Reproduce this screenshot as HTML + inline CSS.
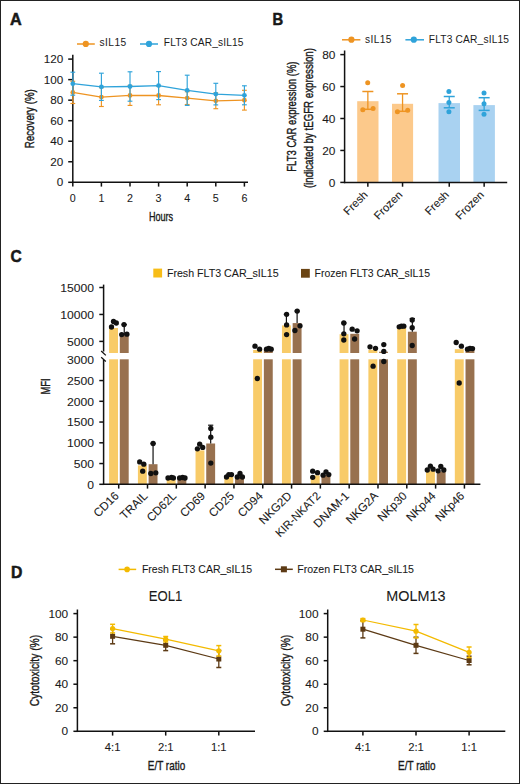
<!DOCTYPE html>
<html><head><meta charset="utf-8"><style>
html,body{margin:0;padding:0;background:#fff;width:520px;height:784px;overflow:hidden;}
svg{display:block;}
text{font-family:"Liberation Sans",sans-serif;fill:#1a1a1a;}
</style></head><body>
<svg width="520" height="784" viewBox="0 0 520 784">
<rect x="0.5" y="0.5" width="519" height="783" fill="#fff" stroke="#222" stroke-width="1"/>
<text x="10.10" y="24.80" font-size="16.6" text-anchor="start" stroke="#111" stroke-width="0.5" font-weight="bold" fill="#111" textLength="11.70" lengthAdjust="spacingAndGlyphs">A</text>
<line x1="77.00" y1="44.00" x2="94.80" y2="44.00" stroke="#ee9422" stroke-width="1.5"/>
<circle cx="85.80" cy="43.90" r="3.1" fill="#ee9422"/>
<text x="99.40" y="46.40" font-size="10.2" text-anchor="start" textLength="26.80" lengthAdjust="spacing">sIL15</text>
<line x1="140.00" y1="44.00" x2="158.00" y2="44.00" stroke="#2fa3da" stroke-width="1.5"/>
<circle cx="149.00" cy="43.90" r="3.1" fill="#2fa3da"/>
<text x="163.80" y="46.40" font-size="10.2" text-anchor="start" textLength="79.70" lengthAdjust="spacing">FLT3 CAR_sIL15</text>
<line x1="72.80" y1="54.80" x2="72.80" y2="183.05" stroke="#111" stroke-width="1.5"/>
<line x1="68.20" y1="182.30" x2="72.80" y2="182.30" stroke="#111" stroke-width="1.5"/>
<text x="63.30" y="186.40" font-size="10.7" text-anchor="end" stroke="#1a1a1a" stroke-width="0.08" textLength="6.50" lengthAdjust="spacingAndGlyphs">0</text>
<line x1="68.20" y1="161.77" x2="72.80" y2="161.77" stroke="#111" stroke-width="1.5"/>
<text x="63.30" y="165.87" font-size="10.7" text-anchor="end" stroke="#1a1a1a" stroke-width="0.08" textLength="13.00" lengthAdjust="spacingAndGlyphs">20</text>
<line x1="68.20" y1="141.23" x2="72.80" y2="141.23" stroke="#111" stroke-width="1.5"/>
<text x="63.30" y="145.33" font-size="10.7" text-anchor="end" stroke="#1a1a1a" stroke-width="0.08" textLength="13.00" lengthAdjust="spacingAndGlyphs">40</text>
<line x1="68.20" y1="120.70" x2="72.80" y2="120.70" stroke="#111" stroke-width="1.5"/>
<text x="63.30" y="124.80" font-size="10.7" text-anchor="end" stroke="#1a1a1a" stroke-width="0.08" textLength="13.00" lengthAdjust="spacingAndGlyphs">60</text>
<line x1="68.20" y1="100.17" x2="72.80" y2="100.17" stroke="#111" stroke-width="1.5"/>
<text x="63.30" y="104.27" font-size="10.7" text-anchor="end" stroke="#1a1a1a" stroke-width="0.08" textLength="13.00" lengthAdjust="spacingAndGlyphs">80</text>
<line x1="68.20" y1="79.63" x2="72.80" y2="79.63" stroke="#111" stroke-width="1.5"/>
<text x="63.30" y="83.73" font-size="10.7" text-anchor="end" stroke="#1a1a1a" stroke-width="0.08" textLength="19.50" lengthAdjust="spacingAndGlyphs">100</text>
<line x1="68.20" y1="59.10" x2="72.80" y2="59.10" stroke="#111" stroke-width="1.5"/>
<text x="63.30" y="63.20" font-size="10.7" text-anchor="end" stroke="#1a1a1a" stroke-width="0.08" textLength="19.50" lengthAdjust="spacingAndGlyphs">120</text>
<line x1="72.05" y1="182.30" x2="248.00" y2="182.30" stroke="#111" stroke-width="1.5"/>
<line x1="72.80" y1="182.30" x2="72.80" y2="186.60" stroke="#111" stroke-width="1.5"/>
<text x="72.80" y="202.20" font-size="10.7" text-anchor="middle" stroke="#1a1a1a" stroke-width="0.08">0</text>
<line x1="101.40" y1="182.30" x2="101.40" y2="186.60" stroke="#111" stroke-width="1.5"/>
<text x="101.40" y="202.20" font-size="10.7" text-anchor="middle" stroke="#1a1a1a" stroke-width="0.08">1</text>
<line x1="130.00" y1="182.30" x2="130.00" y2="186.60" stroke="#111" stroke-width="1.5"/>
<text x="130.00" y="202.20" font-size="10.7" text-anchor="middle" stroke="#1a1a1a" stroke-width="0.08">2</text>
<line x1="158.60" y1="182.30" x2="158.60" y2="186.60" stroke="#111" stroke-width="1.5"/>
<text x="158.60" y="202.20" font-size="10.7" text-anchor="middle" stroke="#1a1a1a" stroke-width="0.08">3</text>
<line x1="187.20" y1="182.30" x2="187.20" y2="186.60" stroke="#111" stroke-width="1.5"/>
<text x="187.20" y="202.20" font-size="10.7" text-anchor="middle" stroke="#1a1a1a" stroke-width="0.08">4</text>
<line x1="215.80" y1="182.30" x2="215.80" y2="186.60" stroke="#111" stroke-width="1.5"/>
<text x="215.80" y="202.20" font-size="10.7" text-anchor="middle" stroke="#1a1a1a" stroke-width="0.08">5</text>
<line x1="244.40" y1="182.30" x2="244.40" y2="186.60" stroke="#111" stroke-width="1.5"/>
<text x="244.40" y="202.20" font-size="10.7" text-anchor="middle" stroke="#1a1a1a" stroke-width="0.08">6</text>
<text x="161.00" y="221.00" font-size="13.5" text-anchor="middle" stroke="#1a1a1a" stroke-width="0.4" textLength="24.20" lengthAdjust="spacingAndGlyphs">Hours</text>
<text x="34.30" y="118.70" font-size="13.5" text-anchor="middle" stroke="#1a1a1a" stroke-width="0.4" textLength="59.00" lengthAdjust="spacingAndGlyphs" transform="rotate(-90 34.30 118.70)">Recovery (%)</text>
<line x1="72.80" y1="81.30" x2="72.80" y2="103.50" stroke="#ee9422" stroke-width="1.15"/>
<line x1="70.40" y1="81.30" x2="75.20" y2="81.30" stroke="#ee9422" stroke-width="1.15"/>
<line x1="70.40" y1="103.50" x2="75.20" y2="103.50" stroke="#ee9422" stroke-width="1.15"/>
<line x1="101.40" y1="87.70" x2="101.40" y2="106.50" stroke="#ee9422" stroke-width="1.15"/>
<line x1="99.00" y1="87.70" x2="103.80" y2="87.70" stroke="#ee9422" stroke-width="1.15"/>
<line x1="99.00" y1="106.50" x2="103.80" y2="106.50" stroke="#ee9422" stroke-width="1.15"/>
<line x1="130.00" y1="85.40" x2="130.00" y2="105.40" stroke="#ee9422" stroke-width="1.15"/>
<line x1="127.60" y1="85.40" x2="132.40" y2="85.40" stroke="#ee9422" stroke-width="1.15"/>
<line x1="127.60" y1="105.40" x2="132.40" y2="105.40" stroke="#ee9422" stroke-width="1.15"/>
<line x1="158.60" y1="86.20" x2="158.60" y2="104.80" stroke="#ee9422" stroke-width="1.15"/>
<line x1="156.20" y1="86.20" x2="161.00" y2="86.20" stroke="#ee9422" stroke-width="1.15"/>
<line x1="156.20" y1="104.80" x2="161.00" y2="104.80" stroke="#ee9422" stroke-width="1.15"/>
<line x1="187.20" y1="91.70" x2="187.20" y2="104.50" stroke="#ee9422" stroke-width="1.15"/>
<line x1="184.80" y1="91.70" x2="189.60" y2="91.70" stroke="#ee9422" stroke-width="1.15"/>
<line x1="184.80" y1="104.50" x2="189.60" y2="104.50" stroke="#ee9422" stroke-width="1.15"/>
<line x1="215.80" y1="92.90" x2="215.80" y2="108.70" stroke="#ee9422" stroke-width="1.15"/>
<line x1="213.40" y1="92.90" x2="218.20" y2="92.90" stroke="#ee9422" stroke-width="1.15"/>
<line x1="213.40" y1="108.70" x2="218.20" y2="108.70" stroke="#ee9422" stroke-width="1.15"/>
<line x1="244.40" y1="90.30" x2="244.40" y2="110.10" stroke="#ee9422" stroke-width="1.15"/>
<line x1="242.00" y1="90.30" x2="246.80" y2="90.30" stroke="#ee9422" stroke-width="1.15"/>
<line x1="242.00" y1="110.10" x2="246.80" y2="110.10" stroke="#ee9422" stroke-width="1.15"/>
<polyline points="72.80,92.40 101.40,97.10 130.00,95.40 158.60,95.50 187.20,98.10 215.80,100.80 244.40,100.20" fill="none" stroke="#ee9422" stroke-width="1.3" stroke-linejoin="round"/>
<circle cx="72.80" cy="92.40" r="2.4" fill="#ee9422"/>
<circle cx="101.40" cy="97.10" r="2.4" fill="#ee9422"/>
<circle cx="130.00" cy="95.40" r="2.4" fill="#ee9422"/>
<circle cx="158.60" cy="95.50" r="2.4" fill="#ee9422"/>
<circle cx="187.20" cy="98.10" r="2.4" fill="#ee9422"/>
<circle cx="215.80" cy="100.80" r="2.4" fill="#ee9422"/>
<circle cx="244.40" cy="100.20" r="2.4" fill="#ee9422"/>
<line x1="72.80" y1="72.20" x2="72.80" y2="95.20" stroke="#2fa3da" stroke-width="1.15"/>
<line x1="70.40" y1="72.20" x2="75.20" y2="72.20" stroke="#2fa3da" stroke-width="1.15"/>
<line x1="70.40" y1="95.20" x2="75.20" y2="95.20" stroke="#2fa3da" stroke-width="1.15"/>
<line x1="101.40" y1="73.20" x2="101.40" y2="100.40" stroke="#2fa3da" stroke-width="1.15"/>
<line x1="99.00" y1="73.20" x2="103.80" y2="73.20" stroke="#2fa3da" stroke-width="1.15"/>
<line x1="99.00" y1="100.40" x2="103.80" y2="100.40" stroke="#2fa3da" stroke-width="1.15"/>
<line x1="130.00" y1="71.80" x2="130.00" y2="101.20" stroke="#2fa3da" stroke-width="1.15"/>
<line x1="127.60" y1="71.80" x2="132.40" y2="71.80" stroke="#2fa3da" stroke-width="1.15"/>
<line x1="127.60" y1="101.20" x2="132.40" y2="101.20" stroke="#2fa3da" stroke-width="1.15"/>
<line x1="158.60" y1="71.60" x2="158.60" y2="99.60" stroke="#2fa3da" stroke-width="1.15"/>
<line x1="156.20" y1="71.60" x2="161.00" y2="71.60" stroke="#2fa3da" stroke-width="1.15"/>
<line x1="156.20" y1="99.60" x2="161.00" y2="99.60" stroke="#2fa3da" stroke-width="1.15"/>
<line x1="187.20" y1="75.20" x2="187.20" y2="105.40" stroke="#2fa3da" stroke-width="1.15"/>
<line x1="184.80" y1="75.20" x2="189.60" y2="75.20" stroke="#2fa3da" stroke-width="1.15"/>
<line x1="184.80" y1="105.40" x2="189.60" y2="105.40" stroke="#2fa3da" stroke-width="1.15"/>
<line x1="215.80" y1="83.30" x2="215.80" y2="104.90" stroke="#2fa3da" stroke-width="1.15"/>
<line x1="213.40" y1="83.30" x2="218.20" y2="83.30" stroke="#2fa3da" stroke-width="1.15"/>
<line x1="213.40" y1="104.90" x2="218.20" y2="104.90" stroke="#2fa3da" stroke-width="1.15"/>
<line x1="244.40" y1="85.80" x2="244.40" y2="104.80" stroke="#2fa3da" stroke-width="1.15"/>
<line x1="242.00" y1="85.80" x2="246.80" y2="85.80" stroke="#2fa3da" stroke-width="1.15"/>
<line x1="242.00" y1="104.80" x2="246.80" y2="104.80" stroke="#2fa3da" stroke-width="1.15"/>
<polyline points="72.80,83.70 101.40,86.80 130.00,86.50 158.60,85.60 187.20,90.30 215.80,94.10 244.40,95.30" fill="none" stroke="#2fa3da" stroke-width="1.3" stroke-linejoin="round"/>
<circle cx="72.80" cy="83.70" r="2.4" fill="#2fa3da"/>
<circle cx="101.40" cy="86.80" r="2.4" fill="#2fa3da"/>
<circle cx="130.00" cy="86.50" r="2.4" fill="#2fa3da"/>
<circle cx="158.60" cy="85.60" r="2.4" fill="#2fa3da"/>
<circle cx="187.20" cy="90.30" r="2.4" fill="#2fa3da"/>
<circle cx="215.80" cy="94.10" r="2.4" fill="#2fa3da"/>
<circle cx="244.40" cy="95.30" r="2.4" fill="#2fa3da"/>
<text x="272.50" y="24.60" font-size="16.6" text-anchor="start" stroke="#111" stroke-width="0.5" font-weight="bold" fill="#111" textLength="10.70" lengthAdjust="spacingAndGlyphs">B</text>
<line x1="342.00" y1="39.80" x2="360.40" y2="39.80" stroke="#ee9422" stroke-width="1.5"/>
<circle cx="351.40" cy="39.70" r="3.1" fill="#ee9422"/>
<text x="365.00" y="42.50" font-size="10.2" text-anchor="start" textLength="26.50" lengthAdjust="spacing">sIL15</text>
<line x1="405.40" y1="39.80" x2="424.00" y2="39.80" stroke="#2fa3da" stroke-width="1.5"/>
<circle cx="413.80" cy="39.70" r="3.1" fill="#2fa3da"/>
<text x="428.80" y="42.50" font-size="10.2" text-anchor="start" textLength="80.20" lengthAdjust="spacing">FLT3 CAR_sIL15</text>
<rect x="357.20" y="101.20" width="21.30" height="81.20" fill="#fcc98b"/>
<rect x="392.00" y="103.80" width="21.10" height="78.60" fill="#fcc98b"/>
<rect x="438.50" y="103.10" width="21.50" height="79.30" fill="#a9d2f1"/>
<rect x="473.40" y="105.10" width="21.50" height="77.30" fill="#a9d2f1"/>
<line x1="367.85" y1="91.50" x2="367.85" y2="109.30" stroke="#ee9422" stroke-width="1.3"/>
<line x1="362.35" y1="91.50" x2="373.35" y2="91.50" stroke="#ee9422" stroke-width="1.5"/>
<line x1="362.35" y1="109.30" x2="373.35" y2="109.30" stroke="#ee9422" stroke-width="1.5"/>
<circle cx="367.70" cy="82.80" r="2.5" fill="#ee9422"/>
<circle cx="362.80" cy="109.70" r="2.5" fill="#ee9422"/>
<circle cx="373.10" cy="108.50" r="2.5" fill="#ee9422"/>
<line x1="402.55" y1="93.80" x2="402.55" y2="111.30" stroke="#ee9422" stroke-width="1.3"/>
<line x1="397.05" y1="93.80" x2="408.05" y2="93.80" stroke="#ee9422" stroke-width="1.5"/>
<line x1="397.05" y1="111.30" x2="408.05" y2="111.30" stroke="#ee9422" stroke-width="1.5"/>
<circle cx="402.60" cy="85.40" r="2.5" fill="#ee9422"/>
<circle cx="397.40" cy="111.80" r="2.5" fill="#ee9422"/>
<circle cx="407.70" cy="110.30" r="2.5" fill="#ee9422"/>
<line x1="449.25" y1="96.50" x2="449.25" y2="107.80" stroke="#2fa3da" stroke-width="1.3"/>
<line x1="443.75" y1="96.50" x2="454.75" y2="96.50" stroke="#2fa3da" stroke-width="1.5"/>
<line x1="443.75" y1="107.80" x2="454.75" y2="107.80" stroke="#2fa3da" stroke-width="1.5"/>
<circle cx="448.90" cy="91.50" r="2.5" fill="#2fa3da"/>
<circle cx="448.90" cy="102.60" r="2.5" fill="#2fa3da"/>
<circle cx="448.90" cy="111.80" r="2.5" fill="#2fa3da"/>
<line x1="484.15" y1="97.70" x2="484.15" y2="110.40" stroke="#2fa3da" stroke-width="1.3"/>
<line x1="478.65" y1="97.70" x2="489.65" y2="97.70" stroke="#2fa3da" stroke-width="1.5"/>
<line x1="478.65" y1="110.40" x2="489.65" y2="110.40" stroke="#2fa3da" stroke-width="1.5"/>
<circle cx="484.00" cy="93.10" r="2.5" fill="#2fa3da"/>
<circle cx="484.00" cy="103.80" r="2.5" fill="#2fa3da"/>
<circle cx="484.00" cy="114.20" r="2.5" fill="#2fa3da"/>
<line x1="344.60" y1="50.50" x2="344.60" y2="183.15" stroke="#111" stroke-width="1.5"/>
<line x1="340.30" y1="182.40" x2="344.60" y2="182.40" stroke="#111" stroke-width="1.5"/>
<text x="335.40" y="186.50" font-size="10.7" text-anchor="end" stroke="#1a1a1a" stroke-width="0.08" textLength="6.60" lengthAdjust="spacingAndGlyphs">0</text>
<line x1="340.30" y1="150.45" x2="344.60" y2="150.45" stroke="#111" stroke-width="1.5"/>
<text x="335.40" y="154.55" font-size="10.7" text-anchor="end" stroke="#1a1a1a" stroke-width="0.08" textLength="13.20" lengthAdjust="spacingAndGlyphs">20</text>
<line x1="340.30" y1="118.50" x2="344.60" y2="118.50" stroke="#111" stroke-width="1.5"/>
<text x="335.40" y="122.60" font-size="10.7" text-anchor="end" stroke="#1a1a1a" stroke-width="0.08" textLength="13.20" lengthAdjust="spacingAndGlyphs">40</text>
<line x1="340.30" y1="86.55" x2="344.60" y2="86.55" stroke="#111" stroke-width="1.5"/>
<text x="335.40" y="90.65" font-size="10.7" text-anchor="end" stroke="#1a1a1a" stroke-width="0.08" textLength="13.20" lengthAdjust="spacingAndGlyphs">60</text>
<line x1="340.30" y1="54.60" x2="344.60" y2="54.60" stroke="#111" stroke-width="1.5"/>
<text x="335.40" y="58.70" font-size="10.7" text-anchor="end" stroke="#1a1a1a" stroke-width="0.08" textLength="13.20" lengthAdjust="spacingAndGlyphs">80</text>
<line x1="343.85" y1="182.40" x2="507.20" y2="182.40" stroke="#111" stroke-width="1.5"/>
<line x1="367.85" y1="182.40" x2="367.85" y2="186.70" stroke="#111" stroke-width="1.5"/>
<text x="368.35" y="195.50" font-size="11.2" text-anchor="end" stroke="#1a1a1a" stroke-width="0.08" transform="rotate(-45 368.35 195.50)">Fresh</text>
<line x1="402.55" y1="182.40" x2="402.55" y2="186.70" stroke="#111" stroke-width="1.5"/>
<text x="403.05" y="195.50" font-size="11.2" text-anchor="end" stroke="#1a1a1a" stroke-width="0.08" transform="rotate(-45 403.05 195.50)">Frozen</text>
<line x1="449.25" y1="182.40" x2="449.25" y2="186.70" stroke="#111" stroke-width="1.5"/>
<text x="449.75" y="195.50" font-size="11.2" text-anchor="end" stroke="#1a1a1a" stroke-width="0.08" transform="rotate(-45 449.75 195.50)">Fresh</text>
<line x1="484.15" y1="182.40" x2="484.15" y2="186.70" stroke="#111" stroke-width="1.5"/>
<text x="484.65" y="195.50" font-size="11.2" text-anchor="end" stroke="#1a1a1a" stroke-width="0.08" transform="rotate(-45 484.65 195.50)">Frozen</text>
<text x="295.90" y="116.60" font-size="13.5" text-anchor="middle" stroke="#1a1a1a" stroke-width="0.4" textLength="110.20" lengthAdjust="spacingAndGlyphs" transform="rotate(-90 295.90 116.60)">FLT3 CAR expression (%)</text>
<text x="313.20" y="118.10" font-size="13.5" text-anchor="middle" stroke="#1a1a1a" stroke-width="0.4" textLength="140.00" lengthAdjust="spacingAndGlyphs" transform="rotate(-90 313.20 118.10)">(indicated by tEGFR expression)</text>
<text x="10.50" y="262.40" font-size="16.6" text-anchor="start" stroke="#111" stroke-width="0.5" font-weight="bold" fill="#111" textLength="11.20" lengthAdjust="spacingAndGlyphs">C</text>
<rect x="153.30" y="268.60" width="8.80" height="8.90" fill="#f7bd18"/>
<text x="166.90" y="276.60" font-size="10.6" text-anchor="start" stroke="#1a1a1a" stroke-width="0.08" textLength="111.70" lengthAdjust="spacingAndGlyphs">Fresh FLT3 CAR_sIL15</text>
<rect x="301.00" y="268.90" width="8.80" height="8.80" fill="#6a4413"/>
<text x="314.60" y="276.60" font-size="10.6" text-anchor="start" stroke="#1a1a1a" stroke-width="0.08" textLength="115.40" lengthAdjust="spacingAndGlyphs">Frozen FLT3 CAR_sIL15</text>
<rect x="109.10" y="359.30" width="8.90" height="125.00" fill="#f8cb68"/>
<rect x="109.10" y="328.00" width="8.90" height="25.00" fill="#f8cb68"/>
<rect x="119.80" y="359.30" width="8.90" height="125.00" fill="#98714f"/>
<rect x="119.80" y="335.60" width="8.90" height="17.40" fill="#98714f"/>
<rect x="137.91" y="465.40" width="8.90" height="18.90" fill="#f8cb68"/>
<rect x="148.61" y="464.20" width="8.90" height="20.10" fill="#98714f"/>
<rect x="166.72" y="479.20" width="8.90" height="5.10" fill="#f8cb68"/>
<rect x="177.42" y="479.00" width="8.90" height="5.30" fill="#98714f"/>
<rect x="195.53" y="450.40" width="8.90" height="33.90" fill="#f8cb68"/>
<rect x="206.23" y="443.50" width="8.90" height="40.80" fill="#98714f"/>
<rect x="224.34" y="477.00" width="8.90" height="7.30" fill="#f8cb68"/>
<rect x="235.04" y="477.00" width="8.90" height="7.30" fill="#98714f"/>
<rect x="253.15" y="359.30" width="8.90" height="125.00" fill="#f8cb68"/>
<rect x="253.15" y="350.00" width="8.90" height="3.00" fill="#f8cb68"/>
<rect x="263.85" y="359.30" width="8.90" height="125.00" fill="#98714f"/>
<rect x="263.85" y="349.60" width="8.90" height="3.40" fill="#98714f"/>
<rect x="281.96" y="359.30" width="8.90" height="125.00" fill="#f8cb68"/>
<rect x="281.96" y="325.40" width="8.90" height="27.60" fill="#f8cb68"/>
<rect x="292.66" y="359.30" width="8.90" height="125.00" fill="#98714f"/>
<rect x="292.66" y="323.10" width="8.90" height="29.90" fill="#98714f"/>
<rect x="310.77" y="475.40" width="8.90" height="8.90" fill="#f8cb68"/>
<rect x="321.47" y="475.00" width="8.90" height="9.30" fill="#98714f"/>
<rect x="339.58" y="359.30" width="8.90" height="125.00" fill="#f8cb68"/>
<rect x="339.58" y="334.20" width="8.90" height="18.80" fill="#f8cb68"/>
<rect x="350.28" y="359.30" width="8.90" height="125.00" fill="#98714f"/>
<rect x="350.28" y="333.80" width="8.90" height="19.20" fill="#98714f"/>
<rect x="368.39" y="359.30" width="8.90" height="125.00" fill="#f8cb68"/>
<rect x="368.39" y="349.80" width="8.90" height="3.20" fill="#f8cb68"/>
<rect x="379.09" y="359.30" width="8.90" height="125.00" fill="#98714f"/>
<rect x="379.09" y="351.70" width="8.90" height="1.30" fill="#98714f"/>
<rect x="397.20" y="359.30" width="8.90" height="125.00" fill="#f8cb68"/>
<rect x="397.20" y="327.70" width="8.90" height="25.30" fill="#f8cb68"/>
<rect x="407.90" y="359.30" width="8.90" height="125.00" fill="#98714f"/>
<rect x="407.90" y="331.70" width="8.90" height="21.30" fill="#98714f"/>
<rect x="426.01" y="470.40" width="8.90" height="13.90" fill="#f8cb68"/>
<rect x="436.71" y="471.50" width="8.90" height="12.80" fill="#98714f"/>
<rect x="454.82" y="359.30" width="8.90" height="125.00" fill="#f8cb68"/>
<rect x="454.82" y="349.20" width="8.90" height="3.80" fill="#f8cb68"/>
<rect x="465.52" y="359.30" width="8.90" height="125.00" fill="#98714f"/>
<rect x="465.52" y="349.80" width="8.90" height="3.20" fill="#98714f"/>
<line x1="124.25" y1="324.60" x2="124.25" y2="335.60" stroke="#111" stroke-width="1.2"/>
<line x1="121.65" y1="324.60" x2="126.85" y2="324.60" stroke="#111" stroke-width="1.2"/>
<circle cx="111.50" cy="327.00" r="2.65" fill="#111"/>
<circle cx="113.50" cy="321.50" r="2.65" fill="#111"/>
<circle cx="116.30" cy="323.00" r="2.65" fill="#111"/>
<circle cx="124.00" cy="324.60" r="2.65" fill="#111"/>
<circle cx="121.70" cy="334.60" r="2.65" fill="#111"/>
<circle cx="126.90" cy="334.20" r="2.65" fill="#111"/>
<line x1="153.06" y1="443.50" x2="153.06" y2="464.20" stroke="#111" stroke-width="1.2"/>
<line x1="150.46" y1="443.50" x2="155.66" y2="443.50" stroke="#111" stroke-width="1.2"/>
<circle cx="139.70" cy="461.90" r="2.65" fill="#111"/>
<circle cx="143.80" cy="464.20" r="2.65" fill="#111"/>
<circle cx="142.70" cy="471.20" r="2.65" fill="#111"/>
<circle cx="153.10" cy="443.50" r="2.65" fill="#111"/>
<circle cx="150.80" cy="473.50" r="2.65" fill="#111"/>
<circle cx="155.80" cy="472.80" r="2.65" fill="#111"/>
<circle cx="168.00" cy="478.00" r="2.65" fill="#111"/>
<circle cx="171.50" cy="477.50" r="2.65" fill="#111"/>
<circle cx="173.40" cy="478.00" r="2.65" fill="#111"/>
<circle cx="179.60" cy="478.00" r="2.65" fill="#111"/>
<circle cx="182.60" cy="477.50" r="2.65" fill="#111"/>
<circle cx="185.00" cy="478.00" r="2.65" fill="#111"/>
<line x1="210.68" y1="425.20" x2="210.68" y2="443.50" stroke="#111" stroke-width="1.2"/>
<line x1="208.08" y1="425.20" x2="213.28" y2="425.20" stroke="#111" stroke-width="1.2"/>
<circle cx="197.40" cy="448.80" r="2.65" fill="#111"/>
<circle cx="199.70" cy="444.20" r="2.65" fill="#111"/>
<circle cx="202.70" cy="447.40" r="2.65" fill="#111"/>
<circle cx="210.80" cy="428.50" r="2.65" fill="#111"/>
<circle cx="210.80" cy="437.20" r="2.65" fill="#111"/>
<circle cx="210.80" cy="463.10" r="2.65" fill="#111"/>
<circle cx="226.50" cy="477.00" r="2.65" fill="#111"/>
<circle cx="228.80" cy="474.60" r="2.65" fill="#111"/>
<circle cx="231.50" cy="474.60" r="2.65" fill="#111"/>
<circle cx="237.30" cy="477.00" r="2.65" fill="#111"/>
<circle cx="240.00" cy="473.50" r="2.65" fill="#111"/>
<circle cx="242.40" cy="477.00" r="2.65" fill="#111"/>
<circle cx="255.00" cy="346.20" r="2.65" fill="#111"/>
<circle cx="259.60" cy="349.20" r="2.65" fill="#111"/>
<circle cx="257.30" cy="378.50" r="2.65" fill="#111"/>
<circle cx="266.50" cy="349.20" r="2.65" fill="#111"/>
<circle cx="268.80" cy="348.50" r="2.65" fill="#111"/>
<circle cx="271.20" cy="349.20" r="2.65" fill="#111"/>
<line x1="286.41" y1="314.30" x2="286.41" y2="325.40" stroke="#111" stroke-width="1.2"/>
<line x1="283.81" y1="314.30" x2="289.01" y2="314.30" stroke="#111" stroke-width="1.2"/>
<line x1="297.11" y1="311.10" x2="297.11" y2="323.10" stroke="#111" stroke-width="1.2"/>
<line x1="294.51" y1="311.10" x2="299.71" y2="311.10" stroke="#111" stroke-width="1.2"/>
<circle cx="286.60" cy="314.30" r="2.65" fill="#111"/>
<circle cx="286.60" cy="324.90" r="2.65" fill="#111"/>
<circle cx="286.60" cy="334.60" r="2.65" fill="#111"/>
<circle cx="297.20" cy="311.10" r="2.65" fill="#111"/>
<circle cx="300.00" cy="325.80" r="2.65" fill="#111"/>
<circle cx="294.90" cy="330.50" r="2.65" fill="#111"/>
<circle cx="312.70" cy="471.20" r="2.65" fill="#111"/>
<circle cx="317.50" cy="472.70" r="2.65" fill="#111"/>
<circle cx="312.70" cy="477.30" r="2.65" fill="#111"/>
<circle cx="323.10" cy="475.20" r="2.65" fill="#111"/>
<circle cx="326.00" cy="471.90" r="2.65" fill="#111"/>
<circle cx="328.80" cy="474.60" r="2.65" fill="#111"/>
<line x1="344.03" y1="323.00" x2="344.03" y2="334.20" stroke="#111" stroke-width="1.2"/>
<line x1="341.43" y1="323.00" x2="346.63" y2="323.00" stroke="#111" stroke-width="1.2"/>
<circle cx="343.80" cy="323.00" r="2.65" fill="#111"/>
<circle cx="343.80" cy="333.80" r="2.65" fill="#111"/>
<circle cx="343.80" cy="340.00" r="2.65" fill="#111"/>
<circle cx="352.20" cy="329.20" r="2.65" fill="#111"/>
<circle cx="357.10" cy="330.80" r="2.65" fill="#111"/>
<circle cx="354.60" cy="339.00" r="2.65" fill="#111"/>
<circle cx="370.00" cy="346.80" r="2.65" fill="#111"/>
<circle cx="375.50" cy="348.30" r="2.65" fill="#111"/>
<circle cx="373.10" cy="366.20" r="2.65" fill="#111"/>
<circle cx="383.80" cy="344.60" r="2.65" fill="#111"/>
<circle cx="383.80" cy="351.40" r="2.65" fill="#111"/>
<circle cx="383.80" cy="361.50" r="2.65" fill="#111"/>
<line x1="412.35" y1="318.50" x2="412.35" y2="331.70" stroke="#111" stroke-width="1.2"/>
<line x1="409.75" y1="318.50" x2="414.95" y2="318.50" stroke="#111" stroke-width="1.2"/>
<circle cx="399.20" cy="326.80" r="2.65" fill="#111"/>
<circle cx="401.40" cy="326.20" r="2.65" fill="#111"/>
<circle cx="403.80" cy="326.20" r="2.65" fill="#111"/>
<circle cx="412.20" cy="320.00" r="2.65" fill="#111"/>
<circle cx="412.20" cy="327.70" r="2.65" fill="#111"/>
<circle cx="412.20" cy="345.50" r="2.65" fill="#111"/>
<circle cx="427.30" cy="470.00" r="2.65" fill="#111"/>
<circle cx="430.40" cy="466.20" r="2.65" fill="#111"/>
<circle cx="433.10" cy="469.20" r="2.65" fill="#111"/>
<circle cx="438.10" cy="470.80" r="2.65" fill="#111"/>
<circle cx="440.80" cy="466.50" r="2.65" fill="#111"/>
<circle cx="443.80" cy="470.00" r="2.65" fill="#111"/>
<circle cx="456.20" cy="342.50" r="2.65" fill="#111"/>
<circle cx="461.40" cy="346.20" r="2.65" fill="#111"/>
<circle cx="459.20" cy="383.00" r="2.65" fill="#111"/>
<circle cx="467.50" cy="349.20" r="2.65" fill="#111"/>
<circle cx="470.00" cy="348.30" r="2.65" fill="#111"/>
<circle cx="472.50" cy="348.60" r="2.65" fill="#111"/>
<line x1="103.60" y1="284.60" x2="103.60" y2="351.50" stroke="#111" stroke-width="1.5"/>
<line x1="103.60" y1="360.00" x2="103.60" y2="485.05" stroke="#111" stroke-width="1.5"/>
<line x1="101.20" y1="351.00" x2="105.80" y2="355.40" stroke="#111" stroke-width="1.3"/>
<line x1="101.20" y1="357.30" x2="105.80" y2="361.50" stroke="#111" stroke-width="1.3"/>
<line x1="99.30" y1="287.50" x2="103.60" y2="287.50" stroke="#111" stroke-width="1.5"/>
<text x="93.90" y="291.80" font-size="10.7" text-anchor="end" stroke="#1a1a1a" stroke-width="0.08" textLength="33.75" lengthAdjust="spacingAndGlyphs">15000</text>
<line x1="99.30" y1="314.45" x2="103.60" y2="314.45" stroke="#111" stroke-width="1.5"/>
<text x="93.90" y="318.75" font-size="10.7" text-anchor="end" stroke="#1a1a1a" stroke-width="0.08" textLength="33.75" lengthAdjust="spacingAndGlyphs">10000</text>
<line x1="99.30" y1="341.40" x2="103.60" y2="341.40" stroke="#111" stroke-width="1.5"/>
<text x="93.90" y="345.70" font-size="10.7" text-anchor="end" stroke="#1a1a1a" stroke-width="0.08" textLength="27.00" lengthAdjust="spacingAndGlyphs">5000</text>
<text x="93.90" y="364.10" font-size="10.7" text-anchor="end" stroke="#1a1a1a" stroke-width="0.08" textLength="27.00" lengthAdjust="spacingAndGlyphs">3000</text>
<line x1="99.30" y1="484.30" x2="103.60" y2="484.30" stroke="#111" stroke-width="1.5"/>
<text x="93.90" y="488.60" font-size="10.7" text-anchor="end" stroke="#1a1a1a" stroke-width="0.08" textLength="6.75" lengthAdjust="spacingAndGlyphs">0</text>
<line x1="99.30" y1="463.55" x2="103.60" y2="463.55" stroke="#111" stroke-width="1.5"/>
<text x="93.90" y="467.85" font-size="10.7" text-anchor="end" stroke="#1a1a1a" stroke-width="0.08" textLength="20.25" lengthAdjust="spacingAndGlyphs">500</text>
<line x1="99.30" y1="442.80" x2="103.60" y2="442.80" stroke="#111" stroke-width="1.5"/>
<text x="93.90" y="447.10" font-size="10.7" text-anchor="end" stroke="#1a1a1a" stroke-width="0.08" textLength="27.00" lengthAdjust="spacingAndGlyphs">1000</text>
<line x1="99.30" y1="422.05" x2="103.60" y2="422.05" stroke="#111" stroke-width="1.5"/>
<text x="93.90" y="426.35" font-size="10.7" text-anchor="end" stroke="#1a1a1a" stroke-width="0.08" textLength="27.00" lengthAdjust="spacingAndGlyphs">1500</text>
<line x1="99.30" y1="401.30" x2="103.60" y2="401.30" stroke="#111" stroke-width="1.5"/>
<text x="93.90" y="405.60" font-size="10.7" text-anchor="end" stroke="#1a1a1a" stroke-width="0.08" textLength="27.00" lengthAdjust="spacingAndGlyphs">2000</text>
<line x1="99.30" y1="380.55" x2="103.60" y2="380.55" stroke="#111" stroke-width="1.5"/>
<text x="93.90" y="384.85" font-size="10.7" text-anchor="end" stroke="#1a1a1a" stroke-width="0.08" textLength="27.00" lengthAdjust="spacingAndGlyphs">2500</text>
<line x1="102.85" y1="484.30" x2="480.40" y2="484.30" stroke="#111" stroke-width="1.5"/>
<line x1="118.70" y1="484.30" x2="118.70" y2="488.60" stroke="#111" stroke-width="1.5"/>
<text x="119.50" y="496.60" font-size="11.7" text-anchor="end" stroke="#1a1a1a" stroke-width="0.08" transform="rotate(-45 119.50 496.60)">CD16</text>
<line x1="147.51" y1="484.30" x2="147.51" y2="488.60" stroke="#111" stroke-width="1.5"/>
<text x="148.31" y="496.60" font-size="11.7" text-anchor="end" stroke="#1a1a1a" stroke-width="0.08" transform="rotate(-45 148.31 496.60)">TRAIL</text>
<line x1="176.32" y1="484.30" x2="176.32" y2="488.60" stroke="#111" stroke-width="1.5"/>
<text x="177.12" y="496.60" font-size="11.7" text-anchor="end" stroke="#1a1a1a" stroke-width="0.08" transform="rotate(-45 177.12 496.60)">CD62L</text>
<line x1="205.13" y1="484.30" x2="205.13" y2="488.60" stroke="#111" stroke-width="1.5"/>
<text x="205.93" y="496.60" font-size="11.7" text-anchor="end" stroke="#1a1a1a" stroke-width="0.08" transform="rotate(-45 205.93 496.60)">CD69</text>
<line x1="233.94" y1="484.30" x2="233.94" y2="488.60" stroke="#111" stroke-width="1.5"/>
<text x="234.74" y="496.60" font-size="11.7" text-anchor="end" stroke="#1a1a1a" stroke-width="0.08" transform="rotate(-45 234.74 496.60)">CD25</text>
<line x1="262.75" y1="484.30" x2="262.75" y2="488.60" stroke="#111" stroke-width="1.5"/>
<text x="263.55" y="496.60" font-size="11.7" text-anchor="end" stroke="#1a1a1a" stroke-width="0.08" transform="rotate(-45 263.55 496.60)">CD94</text>
<line x1="291.56" y1="484.30" x2="291.56" y2="488.60" stroke="#111" stroke-width="1.5"/>
<text x="292.36" y="496.60" font-size="11.7" text-anchor="end" stroke="#1a1a1a" stroke-width="0.08" transform="rotate(-45 292.36 496.60)">NKG2D</text>
<line x1="320.37" y1="484.30" x2="320.37" y2="488.60" stroke="#111" stroke-width="1.5"/>
<text x="321.17" y="496.60" font-size="11.3" text-anchor="end" stroke="#1a1a1a" stroke-width="0.08" transform="rotate(-45 321.17 496.60)">KIR-NKAT2</text>
<line x1="349.18" y1="484.30" x2="349.18" y2="488.60" stroke="#111" stroke-width="1.5"/>
<text x="349.98" y="496.60" font-size="11.7" text-anchor="end" stroke="#1a1a1a" stroke-width="0.08" transform="rotate(-45 349.98 496.60)">DNAM-1</text>
<line x1="377.99" y1="484.30" x2="377.99" y2="488.60" stroke="#111" stroke-width="1.5"/>
<text x="378.79" y="496.60" font-size="11.7" text-anchor="end" stroke="#1a1a1a" stroke-width="0.08" transform="rotate(-45 378.79 496.60)">NKG2A</text>
<line x1="406.80" y1="484.30" x2="406.80" y2="488.60" stroke="#111" stroke-width="1.5"/>
<text x="407.60" y="496.60" font-size="11.7" text-anchor="end" stroke="#1a1a1a" stroke-width="0.08" transform="rotate(-45 407.60 496.60)">NKp30</text>
<line x1="435.61" y1="484.30" x2="435.61" y2="488.60" stroke="#111" stroke-width="1.5"/>
<text x="436.41" y="496.60" font-size="11.7" text-anchor="end" stroke="#1a1a1a" stroke-width="0.08" transform="rotate(-45 436.41 496.60)">NKp44</text>
<line x1="464.42" y1="484.30" x2="464.42" y2="488.60" stroke="#111" stroke-width="1.5"/>
<text x="465.22" y="496.60" font-size="11.7" text-anchor="end" stroke="#1a1a1a" stroke-width="0.08" transform="rotate(-45 465.22 496.60)">NKp46</text>
<text x="50.40" y="386.40" font-size="13.5" text-anchor="middle" stroke="#1a1a1a" stroke-width="0.4" textLength="16.20" lengthAdjust="spacingAndGlyphs" transform="rotate(-90 50.40 386.40)">MFI</text>
<text x="11.00" y="577.60" font-size="16.6" text-anchor="start" stroke="#111" stroke-width="0.5" font-weight="bold" fill="#111" textLength="11.40" lengthAdjust="spacingAndGlyphs">D</text>
<line x1="118.60" y1="569.40" x2="136.20" y2="569.40" stroke="#f3ba00" stroke-width="1.5"/>
<circle cx="127.10" cy="569.40" r="2.8" fill="#f3ba00"/>
<text x="141.90" y="572.60" font-size="10.5" text-anchor="start" stroke="#1a1a1a" stroke-width="0.08" textLength="110.20" lengthAdjust="spacingAndGlyphs">Fresh FLT3 CAR_sIL15</text>
<line x1="275.00" y1="569.30" x2="292.80" y2="569.30" stroke="#5c3a15" stroke-width="1.5"/>
<rect x="280.90" y="566.30" width="6.00" height="6.00" fill="#5c3a15"/>
<text x="297.20" y="572.60" font-size="10.5" text-anchor="start" stroke="#1a1a1a" stroke-width="0.08" textLength="116.80" lengthAdjust="spacingAndGlyphs">Frozen FLT3 CAR_sIL15</text>
<line x1="112.60" y1="628.80" x2="112.60" y2="643.80" stroke="#5c3a15" stroke-width="1.3"/>
<line x1="110.10" y1="643.80" x2="115.10" y2="643.80" stroke="#5c3a15" stroke-width="1.5"/>
<line x1="110.10" y1="628.80" x2="115.10" y2="628.80" stroke="#5c3a15" stroke-width="1.5"/>
<line x1="165.70" y1="640.00" x2="165.70" y2="650.60" stroke="#5c3a15" stroke-width="1.3"/>
<line x1="163.20" y1="650.60" x2="168.20" y2="650.60" stroke="#5c3a15" stroke-width="1.5"/>
<line x1="163.20" y1="640.00" x2="168.20" y2="640.00" stroke="#5c3a15" stroke-width="1.5"/>
<line x1="218.80" y1="650.50" x2="218.80" y2="667.50" stroke="#5c3a15" stroke-width="1.3"/>
<line x1="216.30" y1="667.50" x2="221.30" y2="667.50" stroke="#5c3a15" stroke-width="1.5"/>
<line x1="216.30" y1="650.50" x2="221.30" y2="650.50" stroke="#5c3a15" stroke-width="1.5"/>
<polyline points="112.60,636.30 165.70,645.30 218.80,659.00" fill="none" stroke="#5c3a15" stroke-width="1.25" stroke-linejoin="round"/>
<rect x="110.10" y="633.80" width="5.00" height="5.00" fill="#5c3a15"/>
<rect x="163.20" y="642.80" width="5.00" height="5.00" fill="#5c3a15"/>
<rect x="216.30" y="656.50" width="5.00" height="5.00" fill="#5c3a15"/>
<line x1="112.60" y1="624.30" x2="112.60" y2="632.90" stroke="#f3ba00" stroke-width="1.3"/>
<line x1="110.10" y1="624.30" x2="115.10" y2="624.30" stroke="#f3ba00" stroke-width="1.5"/>
<line x1="110.10" y1="632.90" x2="115.10" y2="632.90" stroke="#f3ba00" stroke-width="1.5"/>
<line x1="165.70" y1="636.50" x2="165.70" y2="641.90" stroke="#f3ba00" stroke-width="1.3"/>
<line x1="163.20" y1="636.50" x2="168.20" y2="636.50" stroke="#f3ba00" stroke-width="1.5"/>
<line x1="163.20" y1="641.90" x2="168.20" y2="641.90" stroke="#f3ba00" stroke-width="1.5"/>
<line x1="218.80" y1="645.60" x2="218.80" y2="656.00" stroke="#f3ba00" stroke-width="1.3"/>
<line x1="216.30" y1="645.60" x2="221.30" y2="645.60" stroke="#f3ba00" stroke-width="1.5"/>
<line x1="216.30" y1="656.00" x2="221.30" y2="656.00" stroke="#f3ba00" stroke-width="1.5"/>
<polyline points="112.60,628.60 165.70,639.20 218.80,650.80" fill="none" stroke="#f3ba00" stroke-width="1.25" stroke-linejoin="round"/>
<circle cx="112.60" cy="628.60" r="2.6" fill="#f3ba00"/>
<circle cx="165.70" cy="639.20" r="2.6" fill="#f3ba00"/>
<circle cx="218.80" cy="650.80" r="2.6" fill="#f3ba00"/>
<line x1="77.40" y1="609.50" x2="77.40" y2="732.05" stroke="#111" stroke-width="1.5"/>
<line x1="73.40" y1="731.30" x2="77.40" y2="731.30" stroke="#111" stroke-width="1.5"/>
<text x="68.20" y="735.40" font-size="10.7" text-anchor="end" stroke="#1a1a1a" stroke-width="0.08" textLength="6.60" lengthAdjust="spacingAndGlyphs">0</text>
<line x1="73.40" y1="707.76" x2="77.40" y2="707.76" stroke="#111" stroke-width="1.5"/>
<text x="68.20" y="711.86" font-size="10.7" text-anchor="end" stroke="#1a1a1a" stroke-width="0.08" textLength="13.20" lengthAdjust="spacingAndGlyphs">20</text>
<line x1="73.40" y1="684.22" x2="77.40" y2="684.22" stroke="#111" stroke-width="1.5"/>
<text x="68.20" y="688.32" font-size="10.7" text-anchor="end" stroke="#1a1a1a" stroke-width="0.08" textLength="13.20" lengthAdjust="spacingAndGlyphs">40</text>
<line x1="73.40" y1="660.68" x2="77.40" y2="660.68" stroke="#111" stroke-width="1.5"/>
<text x="68.20" y="664.78" font-size="10.7" text-anchor="end" stroke="#1a1a1a" stroke-width="0.08" textLength="13.20" lengthAdjust="spacingAndGlyphs">60</text>
<line x1="73.40" y1="637.14" x2="77.40" y2="637.14" stroke="#111" stroke-width="1.5"/>
<text x="68.20" y="641.24" font-size="10.7" text-anchor="end" stroke="#1a1a1a" stroke-width="0.08" textLength="13.20" lengthAdjust="spacingAndGlyphs">80</text>
<line x1="73.40" y1="613.60" x2="77.40" y2="613.60" stroke="#111" stroke-width="1.5"/>
<text x="68.20" y="617.70" font-size="10.7" text-anchor="end" stroke="#1a1a1a" stroke-width="0.08" textLength="19.80" lengthAdjust="spacingAndGlyphs">100</text>
<line x1="76.65" y1="731.30" x2="255.00" y2="731.30" stroke="#111" stroke-width="1.5"/>
<line x1="112.60" y1="731.30" x2="112.60" y2="735.60" stroke="#111" stroke-width="1.5"/>
<text x="112.60" y="751.20" font-size="10.7" text-anchor="middle" stroke="#1a1a1a" stroke-width="0.08" textLength="15.60" lengthAdjust="spacingAndGlyphs">4:1</text>
<line x1="165.70" y1="731.30" x2="165.70" y2="735.60" stroke="#111" stroke-width="1.5"/>
<text x="165.70" y="751.20" font-size="10.7" text-anchor="middle" stroke="#1a1a1a" stroke-width="0.08" textLength="15.60" lengthAdjust="spacingAndGlyphs">2:1</text>
<line x1="218.80" y1="731.30" x2="218.80" y2="735.60" stroke="#111" stroke-width="1.5"/>
<text x="218.80" y="751.20" font-size="10.7" text-anchor="middle" stroke="#1a1a1a" stroke-width="0.08" textLength="15.60" lengthAdjust="spacingAndGlyphs">1:1</text>
<text x="166.50" y="770.20" font-size="13.5" text-anchor="middle" stroke="#1a1a1a" stroke-width="0.4" textLength="37.40" lengthAdjust="spacingAndGlyphs">E/T ratio</text>
<text x="39.40" y="670.50" font-size="13.5" text-anchor="middle" stroke="#1a1a1a" stroke-width="0.4" textLength="71.40" lengthAdjust="spacingAndGlyphs" transform="rotate(-90 39.40 670.50)">Cytotoxicity (%)</text>
<text x="165.60" y="600.90" font-size="14.3" text-anchor="middle" stroke="#1a1a1a" stroke-width="0.08" textLength="33.60" lengthAdjust="spacingAndGlyphs">EOL1</text>
<line x1="362.90" y1="620.50" x2="362.90" y2="637.90" stroke="#5c3a15" stroke-width="1.3"/>
<line x1="360.40" y1="637.90" x2="365.40" y2="637.90" stroke="#5c3a15" stroke-width="1.5"/>
<line x1="360.40" y1="620.50" x2="365.40" y2="620.50" stroke="#5c3a15" stroke-width="1.5"/>
<line x1="416.00" y1="637.20" x2="416.00" y2="653.40" stroke="#5c3a15" stroke-width="1.3"/>
<line x1="413.50" y1="653.40" x2="418.50" y2="653.40" stroke="#5c3a15" stroke-width="1.5"/>
<line x1="413.50" y1="637.20" x2="418.50" y2="637.20" stroke="#5c3a15" stroke-width="1.5"/>
<line x1="469.10" y1="656.20" x2="469.10" y2="664.80" stroke="#5c3a15" stroke-width="1.3"/>
<line x1="466.60" y1="664.80" x2="471.60" y2="664.80" stroke="#5c3a15" stroke-width="1.5"/>
<line x1="466.60" y1="656.20" x2="471.60" y2="656.20" stroke="#5c3a15" stroke-width="1.5"/>
<polyline points="362.90,629.20 416.00,645.30 469.10,660.50" fill="none" stroke="#5c3a15" stroke-width="1.25" stroke-linejoin="round"/>
<rect x="360.40" y="626.70" width="5.00" height="5.00" fill="#5c3a15"/>
<rect x="413.50" y="642.80" width="5.00" height="5.00" fill="#5c3a15"/>
<rect x="466.60" y="658.00" width="5.00" height="5.00" fill="#5c3a15"/>
<line x1="362.90" y1="618.60" x2="362.90" y2="621.40" stroke="#f3ba00" stroke-width="1.3"/>
<line x1="360.40" y1="618.60" x2="365.40" y2="618.60" stroke="#f3ba00" stroke-width="1.5"/>
<line x1="360.40" y1="621.40" x2="365.40" y2="621.40" stroke="#f3ba00" stroke-width="1.5"/>
<line x1="416.00" y1="624.50" x2="416.00" y2="637.90" stroke="#f3ba00" stroke-width="1.3"/>
<line x1="413.50" y1="624.50" x2="418.50" y2="624.50" stroke="#f3ba00" stroke-width="1.5"/>
<line x1="413.50" y1="637.90" x2="418.50" y2="637.90" stroke="#f3ba00" stroke-width="1.5"/>
<line x1="469.10" y1="647.00" x2="469.10" y2="657.60" stroke="#f3ba00" stroke-width="1.3"/>
<line x1="466.60" y1="647.00" x2="471.60" y2="647.00" stroke="#f3ba00" stroke-width="1.5"/>
<line x1="466.60" y1="657.60" x2="471.60" y2="657.60" stroke="#f3ba00" stroke-width="1.5"/>
<polyline points="362.90,620.00 416.00,631.20 469.10,652.30" fill="none" stroke="#f3ba00" stroke-width="1.25" stroke-linejoin="round"/>
<circle cx="362.90" cy="620.00" r="2.6" fill="#f3ba00"/>
<circle cx="416.00" cy="631.20" r="2.6" fill="#f3ba00"/>
<circle cx="469.10" cy="652.30" r="2.6" fill="#f3ba00"/>
<line x1="327.70" y1="609.50" x2="327.70" y2="732.05" stroke="#111" stroke-width="1.5"/>
<line x1="323.70" y1="731.30" x2="327.70" y2="731.30" stroke="#111" stroke-width="1.5"/>
<text x="318.50" y="735.40" font-size="10.7" text-anchor="end" stroke="#1a1a1a" stroke-width="0.08" textLength="6.60" lengthAdjust="spacingAndGlyphs">0</text>
<line x1="323.70" y1="707.76" x2="327.70" y2="707.76" stroke="#111" stroke-width="1.5"/>
<text x="318.50" y="711.86" font-size="10.7" text-anchor="end" stroke="#1a1a1a" stroke-width="0.08" textLength="13.20" lengthAdjust="spacingAndGlyphs">20</text>
<line x1="323.70" y1="684.22" x2="327.70" y2="684.22" stroke="#111" stroke-width="1.5"/>
<text x="318.50" y="688.32" font-size="10.7" text-anchor="end" stroke="#1a1a1a" stroke-width="0.08" textLength="13.20" lengthAdjust="spacingAndGlyphs">40</text>
<line x1="323.70" y1="660.68" x2="327.70" y2="660.68" stroke="#111" stroke-width="1.5"/>
<text x="318.50" y="664.78" font-size="10.7" text-anchor="end" stroke="#1a1a1a" stroke-width="0.08" textLength="13.20" lengthAdjust="spacingAndGlyphs">60</text>
<line x1="323.70" y1="637.14" x2="327.70" y2="637.14" stroke="#111" stroke-width="1.5"/>
<text x="318.50" y="641.24" font-size="10.7" text-anchor="end" stroke="#1a1a1a" stroke-width="0.08" textLength="13.20" lengthAdjust="spacingAndGlyphs">80</text>
<line x1="323.70" y1="613.60" x2="327.70" y2="613.60" stroke="#111" stroke-width="1.5"/>
<text x="318.50" y="617.70" font-size="10.7" text-anchor="end" stroke="#1a1a1a" stroke-width="0.08" textLength="19.80" lengthAdjust="spacingAndGlyphs">100</text>
<line x1="326.95" y1="731.30" x2="505.30" y2="731.30" stroke="#111" stroke-width="1.5"/>
<line x1="362.90" y1="731.30" x2="362.90" y2="735.60" stroke="#111" stroke-width="1.5"/>
<text x="362.90" y="751.20" font-size="10.7" text-anchor="middle" stroke="#1a1a1a" stroke-width="0.08" textLength="15.60" lengthAdjust="spacingAndGlyphs">4:1</text>
<line x1="416.00" y1="731.30" x2="416.00" y2="735.60" stroke="#111" stroke-width="1.5"/>
<text x="416.00" y="751.20" font-size="10.7" text-anchor="middle" stroke="#1a1a1a" stroke-width="0.08" textLength="15.60" lengthAdjust="spacingAndGlyphs">2:1</text>
<line x1="469.10" y1="731.30" x2="469.10" y2="735.60" stroke="#111" stroke-width="1.5"/>
<text x="469.10" y="751.20" font-size="10.7" text-anchor="middle" stroke="#1a1a1a" stroke-width="0.08" textLength="15.60" lengthAdjust="spacingAndGlyphs">1:1</text>
<text x="416.80" y="770.20" font-size="13.5" text-anchor="middle" stroke="#1a1a1a" stroke-width="0.4" textLength="37.40" lengthAdjust="spacingAndGlyphs">E/T ratio</text>
<text x="289.70" y="670.50" font-size="13.5" text-anchor="middle" stroke="#1a1a1a" stroke-width="0.4" textLength="71.40" lengthAdjust="spacingAndGlyphs" transform="rotate(-90 289.70 670.50)">Cytotoxicity (%)</text>
<text x="415.90" y="600.90" font-size="14.3" text-anchor="middle" stroke="#1a1a1a" stroke-width="0.08" textLength="59.10" lengthAdjust="spacingAndGlyphs">MOLM13</text>
</svg>
</body></html>
